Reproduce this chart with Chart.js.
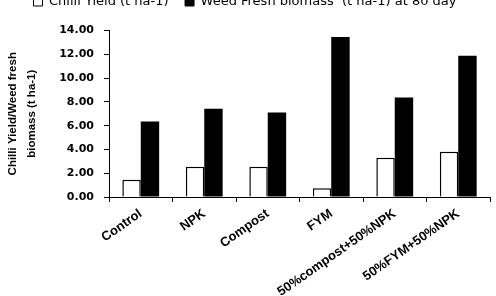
<!DOCTYPE html>
<html><head><meta charset="utf-8">
<script src="https://cdn.jsdelivr.net/npm/chart.js@4"></script>
<style>
html,body{margin:0;padding:0;background:#fff;overflow:hidden}
#wrap{position:absolute;left:0;top:-21px;width:496px;height:317px}
</style></head>
<body><div id="wrap"><canvas id="c" width="496" height="317"></canvas></div>
<script>
const categories = ['Control','NPK','Compost','FYM','50%compost+50%NPK','50%FYM+50%NPK'];
const chilliYield = [1.46, 2.55, 2.55, 0.73, 3.30, 3.80];
const weedBiomass = [6.35, 7.43, 7.10, 13.45, 8.36, 11.88];
const yTicks = [0, 2, 4, 6, 8, 10, 12, 14];
const seriesNames = ['Chilli Yield (t ha-1)', 'Weed Fresh biomass  (t ha-1) at 80 day'];
const yTitle = ['Chilli Yield/Weed fresh', 'biomass (t ha-1)'];

Chart.defaults.animation = false;
Chart.defaults.color = '#000';

const legendGap = {
  id: 'legendGap',
  afterInit(chart) {
    const lg = chart.legend;
    if (!lg) return;
    const orig = lg.fit;
    lg.fit = function () { orig.call(this); this.height += 12; };
  }
};

new Chart(document.getElementById('c'), {
  type: 'bar',
  data: {
    labels: categories,
    datasets: [
      {label: seriesNames[0], data: chilliYield, backgroundColor: '#fff', borderColor: '#000', borderWidth: 1.5, categoryPercentage: 0.58, barPercentage: 1},
      {label: seriesNames[1], data: weedBiomass, backgroundColor: '#000', borderColor: '#000', borderWidth: 0, categoryPercentage: 0.58, barPercentage: 1}
    ]
  },
  plugins: [legendGap],
  options: {
    responsive: false,
    devicePixelRatio: 1,
    layout: {padding: {left: 0, right: 6, top: 0, bottom: 0}},
    plugins: {
      legend: {
        position: 'top', align: 'center',
        labels: {font: {family: 'DejaVu Sans', size: 13}, color: '#000', boxWidth: 9, boxHeight: 8, padding: 16.5,
          generateLabels: (chart) => chart.data.datasets.map((d, i) => ({text: d.label, fillStyle: d.backgroundColor, strokeStyle: '#000', lineWidth: 1, datasetIndex: i, fontColor: '#000'}))
        },
        onClick: null
      },
      tooltip: {enabled: false}
    },
    scales: {
      x: {
        grid: {offset: true, drawOnChartArea: false, color: '#000', tickLength: 5},
        border: {color: '#000', width: 1},
        ticks: {font: {family: 'Liberation Sans', size: 13, weight: 'bold'}, color: '#000', minRotation: 35, maxRotation: 35, autoSkip: false, padding: 4},
        afterFit: (s) => { s.height = 99; }
      },
      y: {
        min: 0, max: 14,
        afterBuildTicks: (s) => { s.ticks = yTicks.map(v => ({value: v})); },
        grid: {drawOnChartArea: false, color: '#000', tickLength: 5},
        border: {color: '#000', width: 1},
        ticks: {font: {family: 'DejaVu Sans', size: 11, weight: 'bold'}, color: '#000', padding: 10, callback: (v) => Number(v).toFixed(2)},
        title: {display: true, text: yTitle, font: {family: 'Liberation Sans', size: 11.5, weight: 'bold', lineHeight: 1.6}, color: '#000', padding: {top: 4, bottom: 0}},
        afterFit: (s) => { s.width = 109; }
      }
    }
  }
});
</script></body></html>
